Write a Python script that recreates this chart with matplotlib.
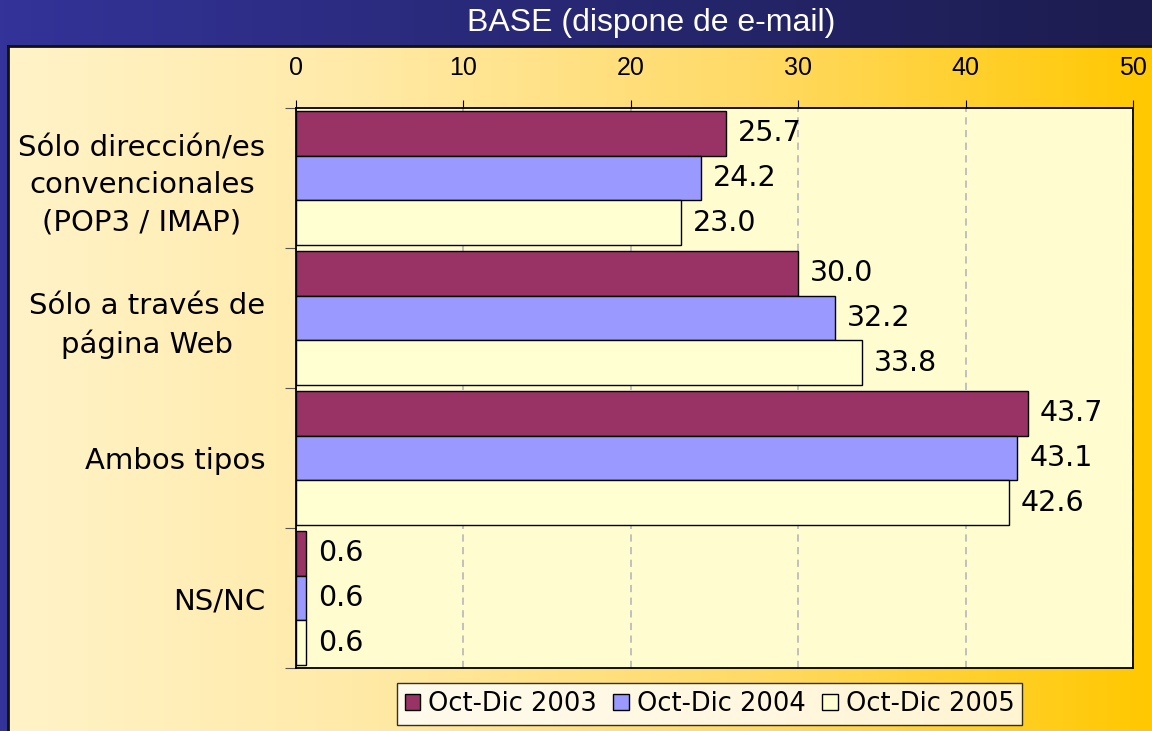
import matplotlib.pyplot as plt
import numpy as np
from matplotlib.colors import LinearSegmentedColormap
from matplotlib.patches import Patch

# datos
categorias = ["Sólo dirección/es\nconvencionales\n(POP3 / IMAP)",
              "Sólo a través de\npágina Web",
              "Ambos tipos",
              "NS/NC"]
series = ["Oct-Dic 2003", "Oct-Dic 2004", "Oct-Dic 2005"]
v2003 = [25.7, 30.0, 43.7, 0.6]
v2004 = [24.2, 32.2, 43.1, 0.6]
v2005 = [23.0, 33.8, 42.6, 0.6]
xticks = [0, 10, 20, 30, 40, 50]

colores = ["#993366", "#9999FF", "#FFFFD2"]
titulo = "BASE (dispone de e-mail)"

W, H = 1152, 731
fig = plt.figure(figsize=(W / 100, H / 100), dpi=100)
fig.patch.set_facecolor("#2E2E8C")

# banda azul del titulo (degradado)
ax_t = fig.add_axes([0, 0, 1, 1], zorder=-3)
cm_t = LinearSegmentedColormap.from_list("t", ["#333399", "#1C1C4E"])
ax_t.imshow(np.linspace(0, 1, 256).reshape(1, -1), aspect="auto", cmap=cm_t,
            extent=[0, 1, 0, 1])
ax_t.set_axis_off()

# panel degradado amarillo
px0, py1 = 8, 46
ax_bg = fig.add_axes([px0 / W, 0, 1 - px0 / W, (H - py1) / H], zorder=-2)
cm_bg = LinearSegmentedColormap.from_list(
    "bg", [(0, "#FFF3C8"), (0.3, "#FFEAA8"), (0.65, "#FFDA66"), (1, "#FFC800")])
ax_bg.imshow(np.linspace(0, 1, 256).reshape(1, -1), aspect="auto", cmap=cm_bg,
             extent=[0, 1, 0, 1])
ax_bg.set_xlim(0, 1)
ax_bg.set_ylim(0, 1)
for s in ["right", "bottom"]:
    ax_bg.spines[s].set_visible(False)
for s in ["left", "top"]:
    ax_bg.spines[s].set_linewidth(2)
    ax_bg.spines[s].set_color("#111111")
ax_bg.set_xticks([])
ax_bg.set_yticks([])

fig.text(651 / W, 1 - 23 / H, titulo, color="white", fontsize=23,
         family="Liberation Sans", ha="center", va="center")

# grafico
x0, x1, y0, y1 = 296, 1133, 108, 668
ax = fig.add_axes([x0 / W, 1 - y1 / H, (x1 - x0) / W, (y1 - y0) / H])
ax.set_facecolor("#FFFDD0")

y = np.arange(len(categorias))
h = 0.318
for i, (vals, c, lab) in enumerate(zip([v2003, v2004, v2005], colores, series)):
    pos = y + (i - 1) * h
    ax.barh(pos, vals, height=h, color=c, edgecolor="black", linewidth=1,
            label=lab, zorder=3)
    for p, v in zip(pos, vals):
        ax.text(v + 0.7, p, f"{v:.1f}", va="center", ha="left", fontsize=20.5,
                family="DejaVu Sans", zorder=4)

ax.set_xlim(0, 50)
ax.set_ylim(len(categorias) - 0.5, -0.5)
ax.xaxis.tick_top()
ax.set_xticks(xticks)
ax.tick_params(axis="x", direction="out", length=6, pad=14, labelsize=18)
for t in ax.get_xticklabels():
    t.set_family("Liberation Sans")
ax.set_yticks(np.arange(-0.5, len(categorias)), [""] * (len(categorias) + 1))
ax.set_yticks(y, categorias, minor=True)
ax.tick_params(axis="y", which="major", direction="out", length=8, color="#555555")
ax.tick_params(axis="y", which="minor", length=0, pad=22, labelsize=21)
for t in ax.get_yticklabels(minor=True):
    t.set_multialignment("center")
    t.set_linespacing(1.4)
ax.grid(axis="x", color="#BBBBBB", linestyle=(0, (4, 3)), linewidth=1.3, zorder=1)
for s in ax.spines.values():
    s.set_color("black")
    s.set_linewidth(1.3)

handles = [Patch(facecolor=c, edgecolor="black", label=l) for c, l in zip(colores, series)]
leg = fig.legend(handles=handles, loc="center", bbox_to_anchor=(709.5 / W, 1 - 704 / H),
                 ncol=3, fontsize=18.5, frameon=True, fancybox=False,
                 handlelength=0.62, handleheight=0.6, handletextpad=0.31,
                 columnspacing=0.62, borderpad=0.3, borderaxespad=0)
leg.get_frame().set_edgecolor("black")
leg.get_frame().set_facecolor("white")
leg.get_frame().set_linewidth(1)

fig.savefig("out.png", dpi=100, facecolor=fig.get_facecolor())
